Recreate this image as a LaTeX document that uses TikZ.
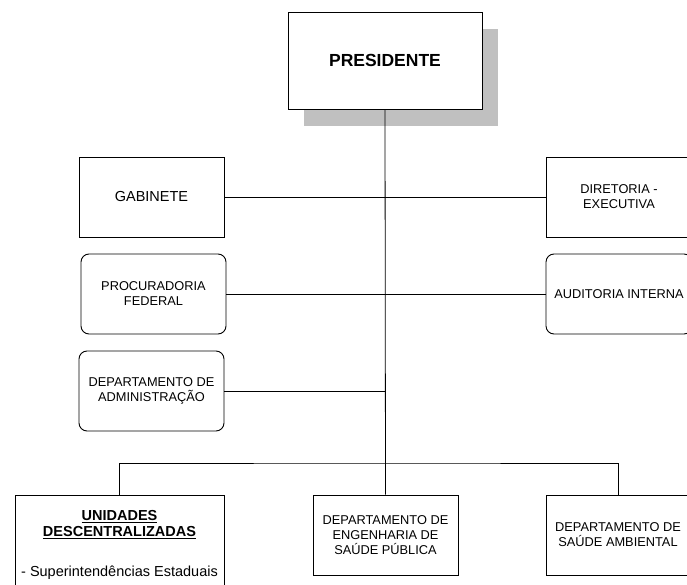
\documentclass[tikz,border=0pt]{standalone}
\usepackage{fontspec}
\setmainfont{Liberation Sans}
\usetikzlibrary{shadows}
\definecolor{sombra}{RGB}{192,192,192}
\begin{document}
\begin{tikzpicture}[x=1pt,y=-1pt,
    caixa/.style={draw,line width=0.9pt,fill=white,minimum width=145pt,%
      minimum height=80pt,align=center,inner sep=2pt,%
      font=\fontsize{12.8}{15}\selectfont},
    caixar/.style={caixa,rounded corners=8pt},
    linha/.style={line width=0.8pt}]
      \useasboundingbox (0,0) rectangle (687,585) ;
      \node[caixa,minimum width=194pt,minimum height=97pt,%
        font=\fontsize{17.5}{20}\selectfont\bfseries,%
        drop shadow={shadow xshift=16pt,shadow yshift=-17pt,fill=sombra,opacity=1}] %
      (pres) at (385,60.5) {PRESIDENTE} ;
      \node[caixa,font=\fontsize{14.5}{16}\selectfont] (gab) at (151.5,197) {GABINETE} ;
      \node[caixar] (proc) at (153.5,294) {PROCURADORIA\\FEDERAL} ;
      \node[caixar] (adm) at (151.5,391) {DEPARTAMENTO DE\\ADMINISTRAÇÃO} ;
      \node[caixa,minimum width=146pt] (dir) at (619,197) {DIRETORIA -\\EXECUTIVA} ;
      \node[caixar,minimum width=146pt] (aud) at (619,294) {AUDITORIA INTERNA} ;
      \node[caixa,minimum width=209pt,minimum height=100pt,%
        font=\fontsize{14.5}{16}\selectfont] (unid) at (119.5,545) %
      {\underline{\textbf{UNIDADES}}\\\underline{\textbf{DESCENTRALIZADAS}}\\[24pt]%
       - Superintendências Estaduais} ;
      \node[caixa] (eng) at (385.5,535) {DEPARTAMENTO DE\\ENGENHARIA DE\\SAÚDE PÚBLICA} ;
      \node[caixa,minimum width=144pt] (amb) at (618,535) {DEPARTAMENTO DE\\SAÚDE AMBIENTAL} ;
      % ligacoes
      \draw[linha] (pres.south) -- (eng.north) ;
      \draw[linha] (gab.east) -- (dir.west) ;
      \draw[linha] (proc.east) -- (aud.west) ;
      \draw[linha] (adm.east) -- (adm.east -| pres.south) ;
      \coordinate (barra) at (385,463) ;
      \draw[linha] (unid.north) |- (barra) -| (amb.north) ;
    \end{tikzpicture}
\end{document}
